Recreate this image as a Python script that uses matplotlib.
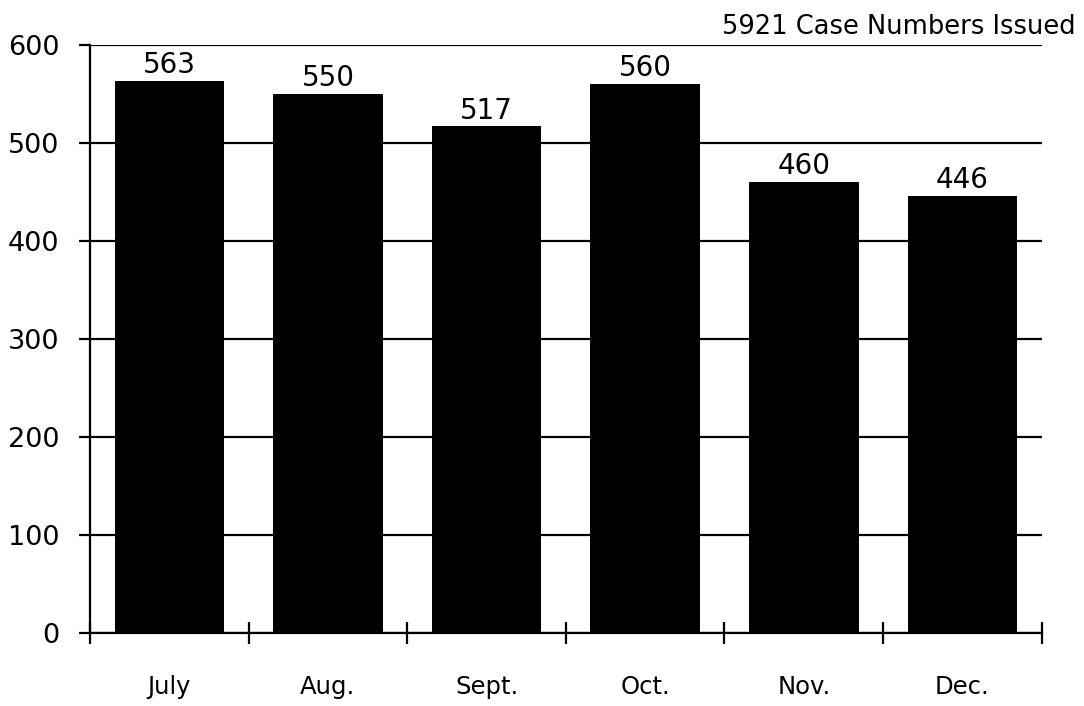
import matplotlib
matplotlib.use('Agg')

import matplotlib.pyplot as plt

months = ["July", "Aug.", "Sept.", "Oct.", "Nov.", "Dec."]
cases = [563, 550, 517, 560, 460, 446]
y_ticks = [0, 100, 200, 300, 400, 500, 600]
total_label = "5921 Case Numbers Issued"

fig = plt.figure(figsize=(10.84, 7.06), dpi=100)
ax = fig.add_axes([0.083, 0.1034, 0.878, 0.8326])

x = [i + 0.5 for i in range(len(months))]
ax.bar(x, cases, width=0.69, color="black", zorder=3)

for xi, v in zip(x, cases):
    ax.text(xi, v + 2, str(v), ha="center", va="bottom", fontsize=20, color="black")

ax.set_xlim(0, 6)
ax.set_ylim(0, 600)
ax.set_yticks(y_ticks)
ax.set_yticklabels([str(t) for t in y_ticks], fontsize=19.5)
ax.yaxis.grid(True, color="black", linewidth=1.6, zorder=0)
ax.set_axisbelow(True)

ax.set_xticks(range(7))
ax.set_xticklabels([])
ax.set_xticks(x, minor=True)
ax.set_xticklabels(months, minor=True, fontsize=17.5)
ax.tick_params(axis="x", which="major", direction="inout", length=16, width=1.6)
ax.tick_params(axis="x", which="minor", length=0, pad=30)
ax.tick_params(axis="y", direction="out", length=8, width=1.6, pad=14)

for side in ["top", "right"]:
    ax.spines[side].set_visible(False)
ax.spines["left"].set_linewidth(1.6)
ax.spines["bottom"].set_linewidth(1.6)

fig.text(0.992, 0.962, total_label, ha="right", va="center", fontsize=18.5)

plt.savefig("out.png", dpi=100)
plt.close()
